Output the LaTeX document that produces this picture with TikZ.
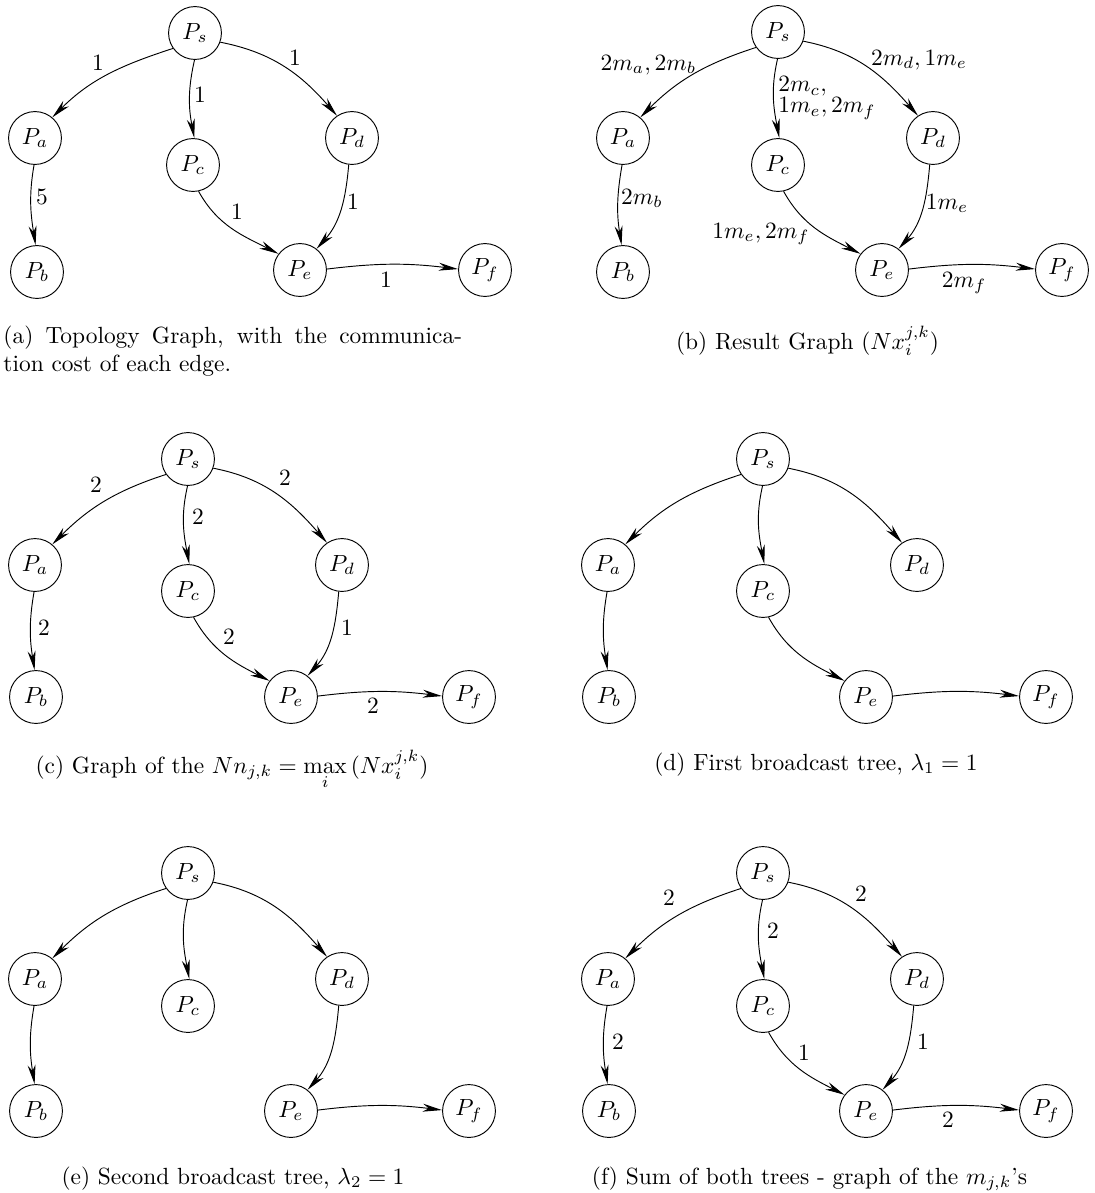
\documentclass[tikz,border=0pt]{standalone}
\usetikzlibrary{arrows.meta}
\newcommand{\mkgraph}[8]{%
  \node[proc] (#1s) at (#2) {$P_s$};
  \node[proc] (#1a) at (#3) {$P_a$};
  \node[proc] (#1b) at (#4) {$P_b$};
  \node[proc] (#1c) at (#5) {$P_c$};
  \node[proc] (#1d) at (#6) {$P_d$};
  \node[proc] (#1e) at (#7) {$P_e$};
  \node[proc] (#1f) at (#8) {$P_f$};}
\newcommand{\eSA}[1]{\draw[arr] (#1s.215) to[out=198,in=45] (#1a.50);}
\newcommand{\eSC}[1]{\draw[arr] (#1s.269) to[out=257,in=101] (#1c.87);}
\newcommand{\eSD}[1]{\draw[arr] (#1s.340) to[out=349,in=131] (#1d.124);}
\newcommand{\eAB}[1]{\draw[arr] (#1a.268) to[out=260,in=99] (#1b.93);}
\newcommand{\eCE}[1]{\draw[arr] (#1c.282) to[out=299,in=153] (#1e.143);}
\newcommand{\eDE}[1]{\draw[arr] (#1d.263) to[out=265,in=48] (#1e.52);}
\newcommand{\eEF}[1]{\draw[arr] (#1e.2) to[out=7,in=173] (#1f.178);}
\begin{document}
\begin{tikzpicture}[x=0.42735pt, y=0.42735pt,
  proc/.style={circle, draw, minimum size=22.6pt, inner sep=0pt},
  arr/.style={-{Stealth[length=8.3pt,width=3.4pt,inset=2.6pt]}},
  lbl/.style={inner sep=0pt},
  lblb/.style={inner sep=0pt, anchor=base},
  captxt/.style={inner sep=0pt, anchor=base}]
\useasboundingbox (0,0) rectangle (1095,-1193);

% ---------- (a) ----------
\mkgraph{A}{195,-33}{35,-138}{37,-272}{193,-165}{352,-138}{300,-270}{485,-270}
\eSA{A}\eSC{A}\eSD{A}\eAB{A}\eCE{A}\eDE{A}\eEF{A}
\node[lbl] (Al1) at (98,-63) {1};
\node[lbl] (Al2) at (200,-95) {1};
\node[lbl] (Al3) at (295,-58) {1};
\node[lbl] (Al4) at (42,-197) {5};
\node[lbl] (Al5) at (237,-212) {1};
\node[lbl] (Al6) at (353,-202) {1};
\node[lbl] (Al7) at (386,-280) {1};
\node[inner sep=0pt, anchor=base west, text width=196pt, align=justify] (Acap) at (3,-343)
  {(a) Topology Graph, with the communica-\linebreak tion cost of each edge.};

% ---------- (b) ----------
\mkgraph{B}{778,-32}{623,-138}{623,-272}{778,-165}{933,-138}{882,-270}{1062,-270}
\eSA{B}\eSC{B}\eSD{B}\eAB{B}\eCE{B}\eDE{B}\eEF{B}
\node[lblb] (Bl1) at (648.5,-70) {$2m_a, 2m_b$};
\node[inner sep=0pt, anchor=north west, align=left] (Bl2) at (778,-76) {$2m_c,$\\[-3pt]$1m_e, 2m_f$};
\node[lblb] (Bl3) at (919,-65) {$2m_d, 1m_e$};
\node[lblb] (Bl4) at (642,-204) {$2m_b$};
\node[lblb] (Bl5) at (761,-238) {$1m_e, 2m_f$};
\node[lblb] (Bl6) at (947,-209) {$1m_e$};
\node[lblb] (Bl7) at (964,-287) {$2m_f$};
\node[captxt] (Bcap) at (807.5,-349) {(b) Result Graph ($Nx_i^{j,k}$)};

% ---------- (c) ----------
\mkgraph{C}{188,-459}{35,-565}{36,-697}{188,-591}{342,-565}{291,-697}{469,-697}
\eSA{C}\eSC{C}\eSD{C}\eAB{C}\eCE{C}\eDE{C}\eEF{C}
\node[lbl] (Cl1) at (96,-485) {2};
\node[lbl] (Cl2) at (198,-517) {2};
\node[lbl] (Cl3) at (285,-478) {2};
\node[lbl] (Cl4) at (44,-628) {2};
\node[lbl] (Cl5) at (229,-637) {2};
\node[lbl] (Cl6) at (347,-628) {1};
\node[lbl] (Cl7) at (373,-706) {2};
\node[captxt] (Ccap) at (232,-773) {(c) Graph of the $Nn_{j,k} = \max\limits_i\,(Nx_i^{j,k})$};

% ---------- (d) ----------
\mkgraph{D}{763,-459}{608,-565}{609,-697}{763,-591}{917,-565}{866,-697}{1046,-697}
\eSA{D}\eSC{D}\eSD{D}\eAB{D}\eCE{D}\eEF{D}
\node[captxt] (Dcap) at (816,-770) {(d) First broadcast tree, $\lambda_1 = 1$};

% ---------- (e) ----------
\mkgraph{E}{188,-873}{35,-979}{36,-1111}{188,-1006}{342,-979}{291,-1111}{469,-1111}
\eSA{E}\eSC{E}\eSD{E}\eAB{E}\eDE{E}\eEF{E}
\node[captxt] (Ecap) at (233,-1184) {(e) Second broadcast tree, $\lambda_2 = 1$};

% ---------- (f) ----------
\mkgraph{F}{763,-873}{608,-979}{609,-1111}{763,-1006}{917,-979}{866,-1111}{1046,-1111}
\eSA{F}\eSC{F}\eSD{F}\eAB{F}\eCE{F}\eDE{F}\eEF{F}
\node[lbl] (Fl1) at (669,-898) {2};
\node[lbl] (Fl2) at (773,-931) {2};
\node[lbl] (Fl3) at (861,-894) {2};
\node[lbl] (Fl4) at (618,-1042) {2};
\node[lbl] (Fl5) at (804,-1053) {1};
\node[lbl] (Fl6) at (923,-1042) {1};
\node[lbl] (Fl7) at (948,-1120) {2};
\node[captxt] (Fcap) at (809.5,-1184) {(f) Sum of both trees - graph of the $m_{j,k}$'s};
\end{tikzpicture}
\end{document}
